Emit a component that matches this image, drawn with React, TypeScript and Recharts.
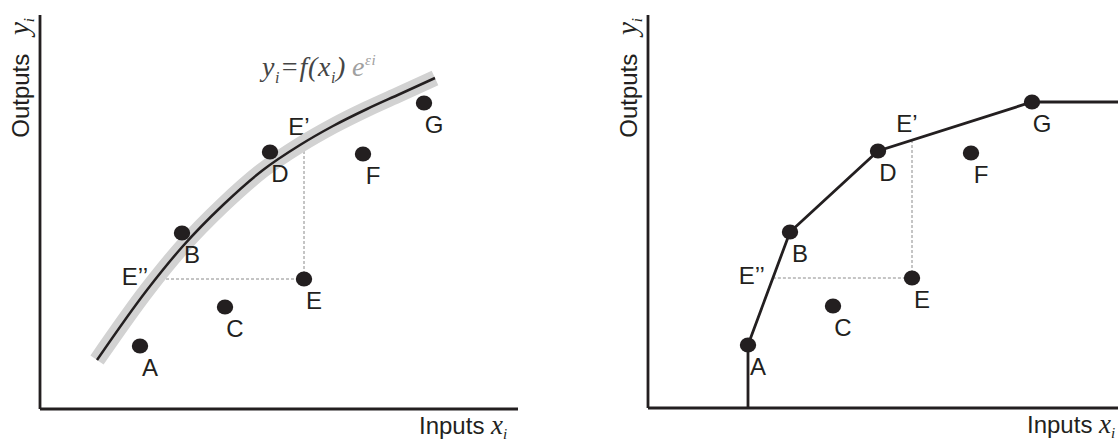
import React from 'react';
import { ComposedChart, XAxis, YAxis, Line, Scatter, ReferenceLine } from 'recharts';

// Firms (observations)
const pointNames = ['A', 'B', 'C', 'D', 'E', 'F', 'G'];
const pointX = [100, 142, 185, 230, 264, 323, 384];
const pointY = [63, 176, 102, 257, 130, 255, 306];

// SFA frontier curve y = f(x) e^eps (left panel)
const curveX = [57, 107, 143, 183, 223, 260, 293, 327, 360, 395];
const curveY = [49, 119, 163, 204, 239, 264, 283, 300, 315, 331];

// DEA piecewise frontier (right panel)
const frontierX = [100, 100, 142, 230, 384, 470];
const frontierY = [0, 63, 176, 257, 306, 306];

const INK = '#231f20';
const SANS = '"Liberation Sans", Arial, Helvetica, sans-serif';
const SERIF = '"Liberation Serif", "Times New Roman", serif';

const points = pointNames.map((n, i) => ({ name: n, x: pointX[i], y: pointY[i] }));
const curve = curveX.map((x, i) => ({ x, y: curveY[i] }));
const frontier = frontierX.map((x, i) => ({ x, y: frontierY[i] }));

const E = points.find((p) => p.name === 'E')!;

// interpolate y at x along a polyline (x ascending)
function yAt(line: { x: number; y: number }[], x: number) {
  for (let i = 1; i < line.length; i++) {
    const a = line[i - 1];
    const b = line[i];
    if (b.x !== a.x && x >= a.x && x <= b.x) return a.y + ((x - a.x) / (b.x - a.x)) * (b.y - a.y);
  }
  return line[line.length - 1].y;
}
// interpolate x at y along a polyline (y ascending)
function xAt(line: { x: number; y: number }[], y: number) {
  for (let i = 1; i < line.length; i++) {
    const a = line[i - 1];
    const b = line[i];
    if (b.y !== a.y && y >= a.y && y <= b.y) return a.x + ((y - a.y) / (b.y - a.y)) * (b.x - a.x);
  }
  return line[0].x;
}

const DotShape = (props: any) => {
  const { cx, cy, payload } = props;
  return (
    <g>
      <ellipse cx={cx} cy={cy} rx={8.2} ry={7.6} fill={INK} />
      <text x={cx + 10} y={cy + 30} textAnchor="middle" fontFamily={SANS} fontSize={24} fill={INK}>
        {payload.name}
      </text>
    </g>
  );
};

const YAxisLabels = (withFormula: boolean) => (props: any) => {
  const { viewBox } = props;
  const x = viewBox.x - 11;
  const y = viewBox.y + 3;
  const fx = viewBox.x + 222;
  const fy = viewBox.y + 61;
  return (
    <g>
      <text x={x} y={y} transform={`rotate(-90 ${x} ${y})`} textAnchor="end" fontFamily={SANS} fontSize={24} fill={INK}>
        Outputs{' '}
        <tspan fontFamily={SERIF} fontStyle="italic" fontSize={29} dx={12}>y</tspan>
        <tspan fontFamily={SERIF} fontStyle="italic" fontSize={15} dy={5}>i</tspan>
      </text>
      {withFormula ? (
        <text x={fx} y={fy} fontFamily={SERIF} fontStyle="italic" fontSize={28} letterSpacing={0.6} fill="#454545">
          y<tspan fontSize={16} dy={7}>i</tspan>
          <tspan dy={-7}>=f(x</tspan>
          <tspan fontSize={16} dy={7}>i</tspan>
          <tspan dy={-7}>)</tspan>
          <tspan fill="#a0a0a0" dx={6}>e</tspan>
          <tspan fill="#a0a0a0" fontSize={15} dy={-11}>εi</tspan>
        </text>
      ) : null}
    </g>
  );
};

const XAxisLabel = (props: any) => {
  const { viewBox } = props;
  const x = viewBox.x + 379;
  const y = viewBox.y + 25;
  return (
    <text x={x} y={y} fontFamily={SANS} fontSize={24} fill={INK}>
      Inputs{' '}
      <tspan fontFamily={SERIF} fontStyle="italic" fontSize={27}>x</tspan>
      <tspan fontFamily={SERIF} fontStyle="italic" fontSize={15} dy={5}>i</tspan>
    </text>
  );
};

const PrimeLabel = (text: string, dx: number, dy: number, anchor: string) => (props: any) => {
  const { viewBox } = props;
  return (
    <text x={viewBox.x + dx} y={viewBox.y + dy} textAnchor={anchor} fontFamily={SANS} fontSize={24} fill={INK}>
      {text}
    </text>
  );
};

function Panel({ kind, width, xMax, yMax, marginBottom }: { kind: 'sfa' | 'dea'; width: number; xMax: number; yMax: number; marginBottom: number }) {
  const line = kind === 'sfa' ? curve : frontier;
  const ePrimeY = yAt(line, E.x);
  const eDoubleX = xAt(kind === 'sfa' ? curve : frontier.slice(1), E.y);
  return (
    <ComposedChart width={width} height={441} margin={{ top: 15, left: 40, right: width - 40 - xMax, bottom: marginBottom }}>
      <XAxis type="number" dataKey="x" domain={[0, xMax]} allowDataOverflow hide />
      <YAxis type="number" dataKey="y" domain={[0, yMax]} allowDataOverflow hide />
      <ReferenceLine
        segment={[{ x: 0, y: 0 }, { x: xMax, y: 0 }]}
        stroke={INK}
        strokeWidth={2.8}
        ifOverflow="visible"
        label={{ content: XAxisLabel } as any}
      />
      <ReferenceLine
        segment={[{ x: 0, y: 0 }, { x: 0, y: yMax }]}
        stroke={INK}
        strokeWidth={2.8}
        ifOverflow="visible"
        label={{ content: YAxisLabels(kind === 'sfa') } as any}
      />
      <ReferenceLine
        segment={[{ x: E.x, y: E.y }, { x: E.x, y: ePrimeY }]}
        stroke="#8a8a8a"
        strokeWidth={1}
        strokeDasharray="3 2"
        label={{ content: PrimeLabel('E\u2019', -5, -8, 'middle') } as any}
      />
      <ReferenceLine
        segment={[{ x: eDoubleX, y: E.y }, { x: E.x, y: E.y }]}
        stroke="#8a8a8a"
        strokeWidth={1}
        strokeDasharray="3 2"
        label={{ content: PrimeLabel('E\u2019\u2019', -8, 6, 'end') } as any}
      />
      {kind === 'sfa' ? (
        <Line
          data={curve}
          dataKey="y"
          type="monotone"
          stroke="#d2d2d2"
          strokeWidth={16}
          style={{ strokeWidth: 16 }}
          strokeLinecap="butt"
          dot={false}
          activeDot={false}
          isAnimationActive={false}
        />
      ) : null}
      <Line
        data={line}
        dataKey="y"
        type={kind === 'sfa' ? 'monotone' : 'linear'}
        stroke={INK}
        strokeWidth={kind === 'sfa' ? 2.5 : 2.8}
        dot={false}
        activeDot={false}
        isAnimationActive={false}
      />
      <Scatter data={points} dataKey="y" shape={DotShape} isAnimationActive={false} />
    </ComposedChart>
  );
}

export default function App() {
  return (
    <div style={{ position: 'absolute', left: 0, top: 0, width: 1118, height: 441, background: '#fff', overflow: 'hidden' }}>
      <div style={{ position: 'absolute', left: 0, top: 0 }}>
        <Panel kind="sfa" width={530} xMax={478} yMax={394} marginBottom={32} />
      </div>
      <div style={{ position: 'absolute', left: 608, top: 0 }}>
        <Panel kind="dea" width={510} xMax={470} yMax={393} marginBottom={33} />
      </div>
    </div>
  );
}
